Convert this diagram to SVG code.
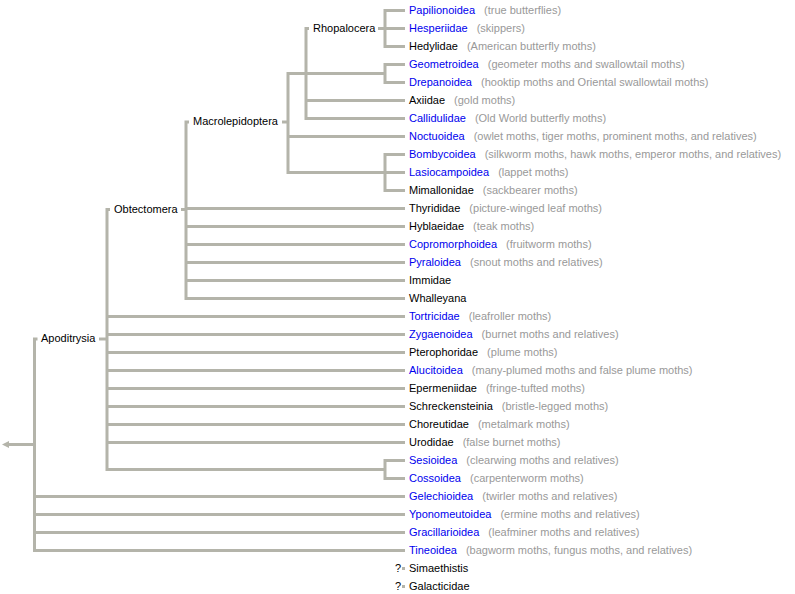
<svg xmlns="http://www.w3.org/2000/svg" width="795" height="594" viewBox="0 0 795 594">
<defs>
<style>
.c{fill:none;stroke:#b4b4aa;stroke-width:3;stroke-linejoin:miter}
text{font-family:"Liberation Sans",Arial,sans-serif;font-size:11px}
.k{fill:#000}
.b{fill:#0000ee}
.d{fill:#999999}
</style>
<marker id="arr" viewBox="0 0 8 8" refX="0" refY="4" markerWidth="7" markerHeight="7" markerUnits="userSpaceOnUse" orient="auto">
<path d="M0,0 L8,4 L0,8 Z" fill="#b4b4aa"/>
</marker>
</defs>
<rect width="795" height="594" fill="#fff"/>
<g id="connectors">
<!-- root -->
<path class="c" d="M34.5,444.5 H9" marker-end="url(#arr)"/>
<path class="c" d="M37.5,339 H34.5 V550.5 H405"/>
<path class="c" d="M34.5,496.5 H405 M34.5,514.5 H405 M34.5,532.5 H405"/>
<!-- Apoditrysia -->
<path class="c" d="M99,339 H107"/>
<path class="c" d="M110,209.5 H107 V469.5 H385"/>
<path class="c" d="M107,316.5 H405 M107,334.5 H405 M107,352.5 H405 M107,370.5 H405 M107,388.5 H405 M107,406.5 H405 M107,424.5 H405 M107,442.5 H405"/>
<path class="c" d="M405,460.5 H385 V478.5 H405"/>
<!-- Obtectomera -->
<path class="c" d="M181,209.5 H186"/>
<path class="c" d="M189,122 H186 V298.5 H405"/>
<path class="c" d="M186,208.5 H405 M186,226.5 H405 M186,244.5 H405 M186,262.5 H405 M186,280.5 H405"/>
<!-- Macrolepidoptera -->
<path class="c" d="M282,122 H288"/>
<path class="c" d="M385,73.5 H288 V172.5 H405"/>
<path class="c" d="M288,136.5 H405"/>
<path class="c" d="M405,154.5 H385 V190.5 H405"/>
<!-- clade with Rhopalocera -->
<path class="c" d="M309,28.5 H306 V118.5 H405"/>
<path class="c" d="M306,100.5 H405"/>
<path class="c" d="M405,64.5 H385 V82.5 H405"/>
<!-- Rhopalocera -->
<path class="c" d="M378,28.5 H405"/>
<path class="c" d="M405,10.5 H385 V46.5 H405"/>
<!-- incertae sedis -->
<path class="c" d="M402,568.5 H405 M402,586.5 H405"/>
</g>
<g id="clades">
<g id="n-rhopalocera"><text class="k" x="313" y="31.8">Rhopalocera</text></g>
<g id="n-macrolepidoptera"><text class="k" x="193" y="125.3">Macrolepidoptera</text></g>
<g id="n-obtectomera"><text class="k" x="114" y="212.8">Obtectomera</text></g>
<g id="n-apoditrysia"><text class="k" x="41" y="342.3">Apoditrysia</text></g>
</g>
<g id="leaves">
<g id="n-papilionoidea"><text x="409" y="13.8"><tspan class="b">Papilionoidea</tspan><tspan class="d" dx="9">(true butterflies)</tspan></text></g>
<g id="n-hesperiidae"><text x="409" y="31.8"><tspan class="b">Hesperiidae</tspan><tspan class="d" dx="9">(skippers)</tspan></text></g>
<g id="n-hedylidae"><text x="409" y="49.8"><tspan class="k">Hedylidae</tspan><tspan class="d" dx="9">(American butterfly moths)</tspan></text></g>
<g id="n-geometroidea"><text x="409" y="67.8"><tspan class="b">Geometroidea</tspan><tspan class="d" dx="9">(geometer moths and swallowtail moths)</tspan></text></g>
<g id="n-drepanoidea"><text x="409" y="85.8"><tspan class="b">Drepanoidea</tspan><tspan class="d" dx="9">(hooktip moths and Oriental swallowtail moths)</tspan></text></g>
<g id="n-axiidae"><text x="409" y="103.8"><tspan class="k">Axiidae</tspan><tspan class="d" dx="9">(gold moths)</tspan></text></g>
<g id="n-callidulidae"><text x="409" y="121.8"><tspan class="b">Callidulidae</tspan><tspan class="d" dx="9">(Old World butterfly moths)</tspan></text></g>
<g id="n-noctuoidea"><text x="409" y="139.8"><tspan class="b">Noctuoidea</tspan><tspan class="d" dx="9">(owlet moths, tiger moths, prominent moths, and relatives)</tspan></text></g>
<g id="n-bombycoidea"><text x="409" y="157.8"><tspan class="b">Bombycoidea</tspan><tspan class="d" dx="9">(silkworm moths, hawk moths, emperor moths, and relatives)</tspan></text></g>
<g id="n-lasiocampoidea"><text x="409" y="175.8"><tspan class="b">Lasiocampoidea</tspan><tspan class="d" dx="9">(lappet moths)</tspan></text></g>
<g id="n-mimallonidae"><text x="409" y="193.8"><tspan class="k">Mimallonidae</tspan><tspan class="d" dx="9">(sackbearer moths)</tspan></text></g>
<g id="n-thyrididae"><text x="409" y="211.8"><tspan class="k">Thyrididae</tspan><tspan class="d" dx="9">(picture-winged leaf moths)</tspan></text></g>
<g id="n-hyblaeidae"><text x="409" y="229.8"><tspan class="k">Hyblaeidae</tspan><tspan class="d" dx="9">(teak moths)</tspan></text></g>
<g id="n-copromorphoidea"><text x="409" y="247.8"><tspan class="b">Copromorphoidea</tspan><tspan class="d" dx="9">(fruitworm moths)</tspan></text></g>
<g id="n-pyraloidea"><text x="409" y="265.8"><tspan class="b">Pyraloidea</tspan><tspan class="d" dx="9">(snout moths and relatives)</tspan></text></g>
<g id="n-immidae"><text x="409" y="283.8"><tspan class="k">Immidae</tspan></text></g>
<g id="n-whalleyana"><text x="409" y="301.8"><tspan class="k">Whalleyana</tspan></text></g>
<g id="n-tortricidae"><text x="409" y="319.8"><tspan class="b">Tortricidae</tspan><tspan class="d" dx="9">(leafroller moths)</tspan></text></g>
<g id="n-zygaenoidea"><text x="409" y="337.8"><tspan class="b">Zygaenoidea</tspan><tspan class="d" dx="9">(burnet moths and relatives)</tspan></text></g>
<g id="n-pterophoridae"><text x="409" y="355.8"><tspan class="k">Pterophoridae</tspan><tspan class="d" dx="9">(plume moths)</tspan></text></g>
<g id="n-alucitoidea"><text x="409" y="373.8"><tspan class="b">Alucitoidea</tspan><tspan class="d" dx="9">(many-plumed moths and false plume moths)</tspan></text></g>
<g id="n-epermeniidae"><text x="409" y="391.8"><tspan class="k">Epermeniidae</tspan><tspan class="d" dx="9">(fringe-tufted moths)</tspan></text></g>
<g id="n-schreckensteinia"><text x="409" y="409.8"><tspan class="k">Schreckensteinia</tspan><tspan class="d" dx="9">(bristle-legged moths)</tspan></text></g>
<g id="n-choreutidae"><text x="409" y="427.8"><tspan class="k">Choreutidae</tspan><tspan class="d" dx="9">(metalmark moths)</tspan></text></g>
<g id="n-urodidae"><text x="409" y="445.8"><tspan class="k">Urodidae</tspan><tspan class="d" dx="9">(false burnet moths)</tspan></text></g>
<g id="n-sesioidea"><text x="409" y="463.8"><tspan class="b">Sesioidea</tspan><tspan class="d" dx="9">(clearwing moths and relatives)</tspan></text></g>
<g id="n-cossoidea"><text x="409" y="481.8"><tspan class="b">Cossoidea</tspan><tspan class="d" dx="9">(carpenterworm moths)</tspan></text></g>
<g id="n-gelechioidea"><text x="409" y="499.8"><tspan class="b">Gelechioidea</tspan><tspan class="d" dx="9">(twirler moths and relatives)</tspan></text></g>
<g id="n-yponomeutoidea"><text x="409" y="517.8"><tspan class="b">Yponomeutoidea</tspan><tspan class="d" dx="9">(ermine moths and relatives)</tspan></text></g>
<g id="n-gracillarioidea"><text x="409" y="535.8"><tspan class="b">Gracillarioidea</tspan><tspan class="d" dx="9">(leafminer moths and relatives)</tspan></text></g>
<g id="n-tineoidea"><text x="409" y="553.8"><tspan class="b">Tineoidea</tspan><tspan class="d" dx="9">(bagworm moths, fungus moths, and relatives)</tspan></text></g>
<g id="n-simaethistis"><text class="k" x="395" y="571.8">?</text><text class="k" x="409" y="571.8">Simaethistis</text></g>
<g id="n-galacticidae"><text class="k" x="395" y="589.8">?</text><text class="k" x="409" y="589.8">Galacticidae</text></g>
</g>
</svg>
